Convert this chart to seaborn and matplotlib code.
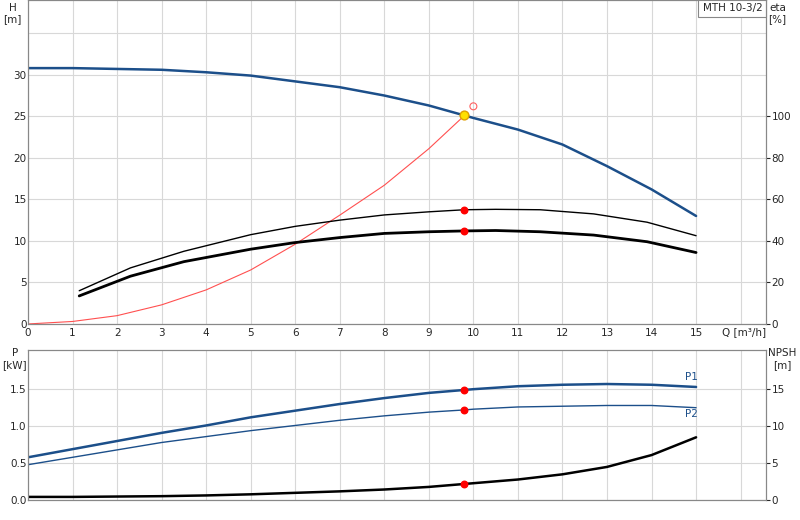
import matplotlib
matplotlib.use("Agg")
import matplotlib.pyplot as plt
import seaborn as sns
import pandas as pd

Q_H = [0, 1, 2, 3, 4, 5, 6, 7, 8, 9, 9.8, 10, 11, 12, 13, 14, 15]
H = [30.8, 30.8, 30.7, 30.6, 30.3, 29.9, 29.2, 28.5, 27.5, 26.3, 25.1, 24.8, 23.4, 21.6, 19.0, 16.2, 13.0]
Q_E = [1.15, 2.3, 3.5, 5, 6, 7, 8, 9, 9.8, 10.5, 11.5, 12.7, 13.9, 15]
ETA1 = [16, 27, 35, 43, 47, 50, 52.5, 54, 55, 55.2, 55, 53, 49, 42.5]
ETA2 = [13.5, 23, 30, 36, 39.2, 41.6, 43.6, 44.4, 44.8, 45, 44.4, 42.8, 39.6, 34.4]
Q_S = [0, 1, 2, 3, 4, 5, 6, 7, 8, 9, 9.8]
H_S = [0, 0.3, 1.0, 2.3, 4.1, 6.5, 9.6, 13.1, 16.7, 21.1, 25.1]
Q_P = [0, 1, 2, 3, 4, 5, 6, 7, 8, 9, 9.8, 10, 11, 12, 13, 14, 15]
P1 = [0.58, 0.69, 0.80, 0.91, 1.01, 1.12, 1.21, 1.30, 1.38, 1.45, 1.49, 1.50, 1.54, 1.56, 1.57, 1.56, 1.53]
P2 = [0.48, 0.58, 0.68, 0.78, 0.86, 0.94, 1.01, 1.08, 1.14, 1.19, 1.22, 1.23, 1.26, 1.27, 1.28, 1.28, 1.25]
NPSH = [0.45, 0.45, 0.5, 0.55, 0.65, 0.8, 1.0, 1.2, 1.45, 1.8, 2.2, 2.3, 2.8, 3.5, 4.5, 6.1, 8.5]
DUTY_Q = 9.8
DUTY_H = 25.1
DUTY_ETA1, DUTY_ETA2 = 55, 44.8
DUTY_P1, DUTY_P2, DUTY_NPSH = 1.49, 1.22, 2.2

sns.set_style("white")
plt.rcParams['font.family'] = ['DejaVu Sans']
BLUE = "#1c4f8a"
GRID = "#d8d8d8"
FS = 7.5

fig = plt.figure(figsize=(8, 5.2), dpi=100)
ax = fig.add_axes([0.035, 0.377, 0.9225, 0.623])
axb = fig.add_axes([0.035, 0.038, 0.9225, 0.289])

for a in (ax, axb):
    a.set_xlim(0, 16.57)
    a.set_xticks(range(0, 17))
    a.grid(True, color=GRID, lw=0.8)
    for s in a.spines.values():
        s.set_color("#888888"); s.set_linewidth(0.8)
    a.tick_params(labelsize=FS, length=2, pad=1)

ax.set_ylim(0, 39)
ax.set_yticks(range(0, 40, 5))
ax.set_yticklabels([str(v) if v <= 30 else "" for v in range(0, 40, 5)])
ax.set_xticklabels([str(v) for v in range(0, 16)] + [""])
ax.tick_params(axis="y", length=0)
axr = ax.twinx()
axr.set_ylim(0, 156)
axr.set_yticks([0, 20, 40, 60, 80, 100])
axr.tick_params(labelsize=FS, length=3, pad=1)

sns.lineplot(x=Q_H, y=H, ax=ax, color=BLUE, lw=1.8)
sns.lineplot(x=Q_S, y=H_S, ax=ax, color="#ff5050", lw=0.8)
sns.lineplot(x=Q_E, y=ETA1, ax=axr, color="black", lw=1.0)
sns.lineplot(x=Q_E, y=ETA2, ax=axr, color="black", lw=2)
axr.scatter([DUTY_Q, DUTY_Q], [DUTY_ETA1, DUTY_ETA2], color="red", s=22, zorder=5)
ax.scatter([DUTY_Q], [DUTY_H], color="#ffe000", edgecolor="#e0a000", s=40, zorder=6)
ax.scatter([10.0], [26.2], facecolor="none", edgecolor="#ff6060", s=25, lw=0.8, zorder=6)
axr.grid(False)
for s in axr.spines.values():
    s.set_color("#888888"); s.set_linewidth(0.8)

axb.set_ylim(0, 2.03)
axb.set_yticks([0, 0.5, 1.0, 1.5])
axb.set_yticklabels(["0.0", "0.5", "1.0", "1.5"])
axb.set_xticklabels([])
axb.tick_params(axis="x", length=0)
axb.tick_params(axis="y", length=0)
axbr = axb.twinx()
axbr.set_ylim(0, 20.3)
axbr.set_yticks([0, 5, 10, 15])
axbr.tick_params(labelsize=FS, length=3, pad=1)
for s in axbr.spines.values():
    s.set_color("#888888"); s.set_linewidth(0.8)

sns.lineplot(x=Q_P, y=P1, ax=axb, color=BLUE, lw=1.8)
sns.lineplot(x=Q_P, y=P2, ax=axb, color=BLUE, lw=1.0)
sns.lineplot(x=Q_P, y=NPSH, ax=axbr, color="black", lw=1.8)
axb.scatter([DUTY_Q, DUTY_Q], [DUTY_P1, DUTY_P2], color="red", s=22, zorder=5)
axbr.scatter([DUTY_Q], [DUTY_NPSH], color="red", s=22, zorder=5)
axb.text(14.75, 1.62, "P1", color=BLUE, fontsize=FS)
axb.text(14.75, 1.13, "P2", color=BLUE, fontsize=FS)

fig.text(0.016, 0.995, "H\n[m]", fontsize=FS, ha="center", va="top")
fig.text(0.972, 0.995, "eta\n[%]", fontsize=FS, ha="center", va="top")
fig.text(0.003, 0.33, "P\n[kW]", fontsize=FS, ha="left", va="top", multialignment="center")
fig.text(0.978, 0.33, "NPSH\n[m]", fontsize=FS, ha="center", va="top")
fig.text(0.903, 0.362, "Q [m³/h]", fontsize=FS, ha="left", va="center")
ax.text(0.995, 0.99, "MTH 10-3/2", transform=ax.transAxes, fontsize=FS, ha="right", va="top",
        bbox=dict(boxstyle="square,pad=0.4", fc="white", ec="#888888", lw=0.8))

fig.savefig("out.png", dpi=100)
